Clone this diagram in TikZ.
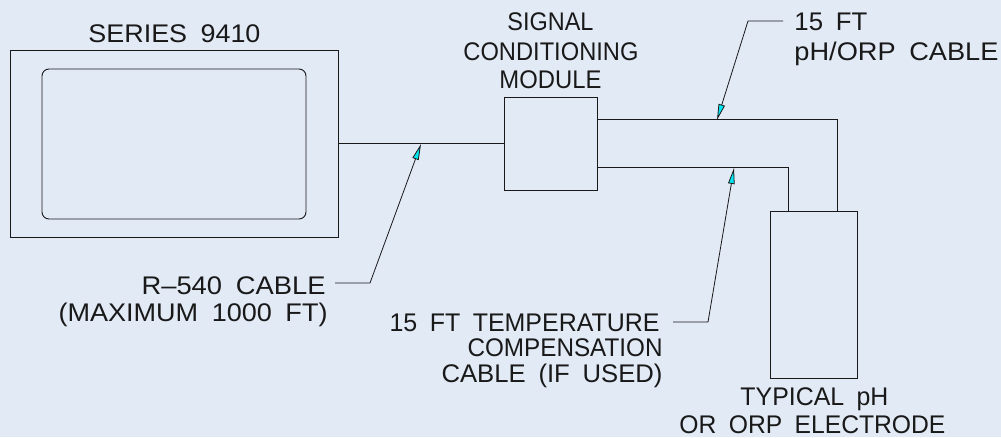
\documentclass[tikz,border=0pt]{standalone}
\usepackage{fontspec}
\setmainfont{Liberation Sans}[WordSpace=1.8]
\usepackage{graphicx}
\usetikzlibrary{arrows.meta,calc}
\definecolor{bg}{RGB}{226,234,246}
\definecolor{ink}{RGB}{25,25,25}
\definecolor{tipc}{RGB}{0,230,240}
\newcommand\fitw[2]{\resizebox{#1pt}{\height}{#2}}
\begin{document}
\begin{tikzpicture}[x=1pt,y=-1pt,line width=0.9pt,draw=ink,
  lbl/.style={inner sep=0pt,font=\fontsize{25.5}{29}\selectfont,text=ink},
  box/.style={draw=ink,inner sep=0pt,rectangle},
  cable/.style={draw=ink,line width=0.9pt},
  leader/.style={draw=ink,line width=0.8pt,-{Triangle[length=16pt,width=6.5pt,fill=tipc]}}]
\fill[bg] (0,0) rectangle (1001,437);
\useasboundingbox (0,0) rectangle (1001,437);

% boxes
\node[box,minimum width=328pt,minimum height=187pt] (sbox) at (174,143.5) {};
\draw[ink,rounded corners=7pt] (42,69) rectangle (306,219);
\node[box,minimum width=93pt,minimum height=93pt] (scm) at (550.5,143.5) {};
\node[box,minimum width=87pt,minimum height=167pt] (elec) at (813.5,294.5) {};

% cables
\draw[cable] (sbox.east) -- (scm.west);
\draw[cable] ($(scm.north east)+(0,23)$) -| ($(elec.north east)+(-20,0)$);
\draw[cable] ($(scm.north east)+(0,71)$) -| ($(elec.north west)+(19,0)$);

% labels
\node[lbl,anchor=base west] (tser) at (88,42) {\fitw{172}{SERIES 9410}};
\node[lbl,anchor=base west] (sig) at (507,30) {\fitw{86}{SIGNAL}};
\node[lbl,anchor=base west] (cond) at (463,60) {\fitw{175}{CONDITIONING}};
\node[lbl,anchor=base west] (mod) at (499,88) {\fitw{102}{MODULE}};
\node[lbl,anchor=base west] (ft15) at (794,30) {\fitw{73}{15 FT}};
\node[lbl,anchor=base west] (phc) at (794,60) {\fitw{204}{pH/ORP CABLE}};
\node[lbl,anchor=base east] (r540) at (326,294) {\fitw{184}{R--540 CABLE}};
\node[lbl,anchor=base east] (maxi) at (328,321) {\fitw{269}{(MAXIMUM 1000 FT)}};
\node[lbl,anchor=base east] (temp) at (660,331) {\fitw{270}{15 FT TEMPERATURE}};
\node[lbl,anchor=base east] (comp) at (663,356) {\fitw{195}{COMPENSATION}};
\node[lbl,anchor=base east] (ifu) at (663,382) {\fitw{221}{CABLE (IF USED)}};
\node[lbl,anchor=base west] (typ) at (740,405) {\fitw{148}{TYPICAL pH}};
\node[lbl,anchor=base west] (orp) at (679,433) {\fitw{266}{OR ORP ELECTRODE}};

% leader points
\coordinate (t1) at (421,144);
\coordinate (k1) at (370,283);
\coordinate (t2) at (717,120);
\coordinate (k2) at (748,21);
\coordinate (t3) at (734,168);
\coordinate (k3) at (708,322);

\draw[leader] ($(r540.base east)+(9,-11)$) -- (k1) -- (t1);
\draw[leader] ($(ft15.base west)+(-11,-9)$) -- (k2) -- (t2);
\draw[leader] ($(temp.base east)+(13,-9)$) -- (k3) -- (t3);
\end{tikzpicture}
\end{document}
